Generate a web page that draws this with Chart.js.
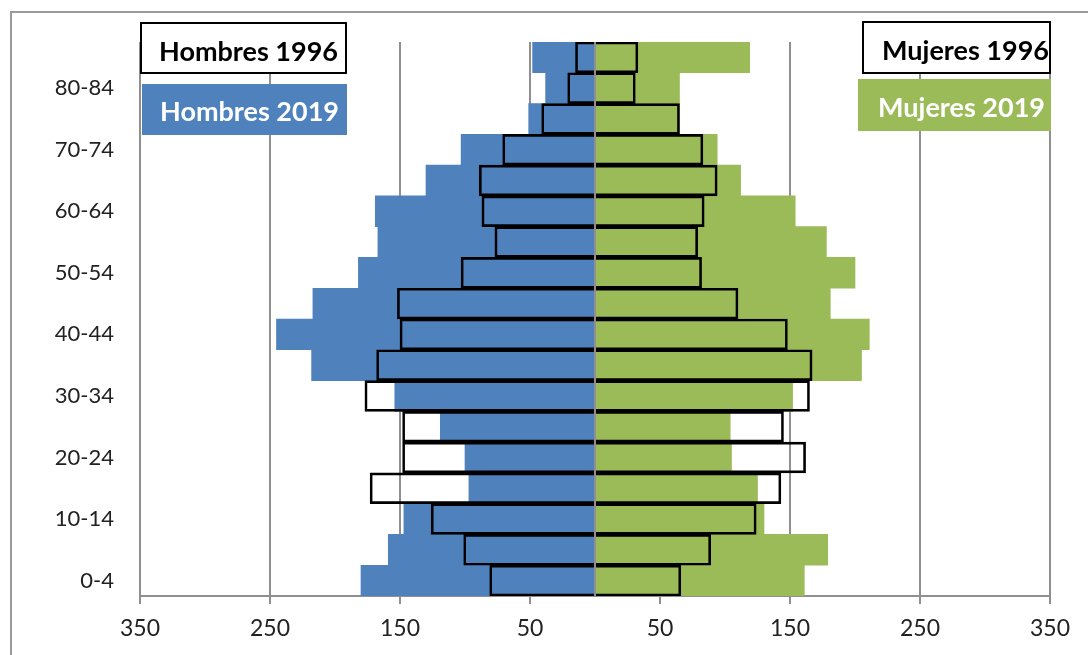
<!DOCTYPE html>
<html>
<head>
<meta charset="utf-8">
<script src="https://cdn.jsdelivr.net/npm/chart.js@4"></script>
<style>
  html, body { margin: 0; padding: 0; background: #fff; }
</style>
</head>
<body>
<canvas id="pyramid" width="1088" height="655"></canvas>
<script>
// age groups, bottom to top
const ageGroups = ["0-4", "5-9", "10-14", "15-19", "20-24", "25-29", "30-34", "35-39", "40-44",
                   "45-49", "50-54", "55-59", "60-64", "65-69", "70-74", "75-79", "80-84", "85+"];

const hombres2019 = [180, 159, 147, 97, 100, 119, 154, 218, 245, 217, 182, 167, 169, 130, 103, 51, 38, 48];
const hombres1996 = [81, 101, 126, 173, 148, 148, 177, 168, 150, 152, 103, 77, 87, 89, 71, 41, 21, 15];
const mujeres2019 = [161, 179, 130, 125, 105, 104, 152, 205, 211, 181, 200, 178, 154, 112, 94, 65, 65, 119];
const mujeres1996 = [66, 89, 124, 143, 162, 145, 165, 167, 148, 110, 82, 79, 84, 94, 83, 65, 31, 33];

const xTicks = [-350, -250, -150, -50, 50, 150, 250, 350];

const BLUE = "#4F81BD";
const GREEN = "#9BBB59";
const GRID = "#8f8f8f";
const FONT = "Lato, 'Open Sans', sans-serif";

// text boxes that stand in for the legend
const boxes = [
    { text: "Hombres 1996", x: 140, y: 22, w: 207, h: 52, fill: "#fff", stroke: "#000", color: "#000", tx: 338, ty: 61 },
    { text: "Hombres 2019", x: 142, y: 84, w: 205, h: 51, fill: BLUE, stroke: null, color: "#fff", tx: 339, ty: 121 },
    { text: "Mujeres 1996", x: 862, y: 21, w: 189, h: 53, fill: "#fff", stroke: "#000", color: "#000", tx: 1049, ty: 60 },
    { text: "Mujeres 2019", x: 858, y: 79, w: 193, h: 52, fill: GREEN, stroke: null, color: "#fff", tx: 1045, ty: 117 }
];

const extras = {
    id: "extras",
    beforeDraw(chart) {
        const c = chart.ctx;
        c.save();
        c.fillStyle = "#fff";
        c.fillRect(0, 0, chart.width, chart.height);
        // outer frame (only left and top fall inside the picture)
        c.strokeStyle = "#9a9a9a";
        c.lineWidth = 2;
        c.strokeRect(11, 12, 1200, 800);
        c.restore();
    },
    afterDatasetsDraw(chart) {
        const c = chart.ctx;
        const a = chart.chartArea;
        const x0 = chart.scales.x.getPixelForValue(0);
        c.save();
        c.strokeStyle = GRID;
        c.lineWidth = 2;
        c.beginPath();
        c.moveTo(x0, a.top);
        c.lineTo(x0, a.bottom);
        c.stroke();
        c.restore();
    },
    afterDraw(chart) {
        const c = chart.ctx;
        c.save();
        boxes.forEach(b => {
            c.fillStyle = b.fill;
            c.fillRect(b.x, b.y, b.w, b.h);
            if (b.stroke) {
                c.strokeStyle = b.stroke;
                c.lineWidth = 2;
                c.strokeRect(b.x + 1, b.y + 1, b.w - 2, b.h - 2);
            }
            c.fillStyle = b.color;
            c.font = "bold 27px " + FONT;
            c.textAlign = "right";
            c.textBaseline = "alphabetic";
            c.fillText(b.text, b.tx, b.ty);
        });
        c.restore();
    }
};

const barCommon = {
    grouped: false,
    barPercentage: 1,
    categoryPercentage: 1
};

new Chart(document.getElementById("pyramid"), {
    type: "bar",
    data: {
        labels: ageGroups,
        datasets: [
            { ...barCommon, label: "Hombres 2019", data: hombres2019.map(v => -v),
              backgroundColor: BLUE, borderWidth: 0, order: 2 },
            { ...barCommon, label: "Mujeres 2019", data: mujeres2019,
              backgroundColor: GREEN, borderWidth: 0, order: 2 },
            { ...barCommon, label: "Hombres 1996", data: hombres1996.map(v => -v),
              backgroundColor: "rgba(0,0,0,0)", borderColor: "#000", borderWidth: 2, order: 1 },
            { ...barCommon, label: "Mujeres 1996", data: mujeres1996,
              backgroundColor: "rgba(0,0,0,0)", borderColor: "#000", borderWidth: 2, order: 1 }
        ]
    },
    options: {
        indexAxis: "y",
        responsive: false,
        animation: false,
        devicePixelRatio: 1,
        layout: { padding: { top: 42, right: 38, left: 0, bottom: 0 } },
        plugins: {
            legend: { display: false },
            tooltip: { enabled: false }
        },
        scales: {
            x: {
                min: -350,
                max: 350,
                afterBuildTicks: scale => {
                    scale.ticks = xTicks.map(v => ({ value: v }));
                },
                afterFit: scale => { scale.height = 59; },
                grid: { color: GRID, lineWidth: 2, drawTicks: true, tickLength: 8, tickColor: GRID },
                border: { display: true, color: GRID, width: 2 },
                ticks: {
                    autoSkip: false,
                    maxRotation: 0,
                    padding: 11,
                    color: "#222",
                    font: { family: FONT, size: 23 },
                    callback: v => Math.abs(v)
                }
            },
            y: {
                reverse: true,
                afterFit: scale => { scale.width = 140; },
                grid: { display: false, drawTicks: false },
                border: { display: false },
                ticks: {
                    autoSkip: false,
                    padding: 26,
                    color: "#222",
                    font: { family: FONT, size: 22 },
                    callback: (v, i) => (i % 2 === 0 ? ageGroups[i] : "")
                }
            }
        }
    },
    plugins: [extras]
});
</script>
</body>
</html>
